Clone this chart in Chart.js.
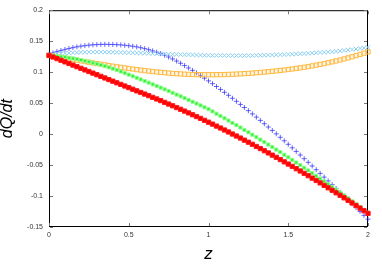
<!DOCTYPE html>
<html>
<head>
<meta charset="utf-8">
<script src="https://cdn.jsdelivr.net/npm/chart.js@4.4.0/dist/chart.umd.min.js"></script>
<style>
  body { margin: 0; background: #fff; }
</style>
</head>
<body>
<canvas id="myChart" width="382" height="273"></canvas>
<script>
// z values (horizontal axis)
const zValues = [0, 0.025, 0.05, 0.075, 0.1, 0.125, 0.15, 0.175, 0.2, 0.225,
    0.25, 0.275, 0.3, 0.325, 0.35, 0.375, 0.4, 0.425, 0.45, 0.475,
    0.5, 0.525, 0.55, 0.575, 0.6, 0.625, 0.65, 0.675, 0.7, 0.725,
    0.75, 0.775, 0.8, 0.825, 0.85, 0.875, 0.9, 0.925, 0.95, 0.975,
    1, 1.025, 1.05, 1.075, 1.1, 1.125, 1.15, 1.175, 1.2, 1.225,
    1.25, 1.275, 1.3, 1.325, 1.35, 1.375, 1.4, 1.425, 1.45, 1.475,
    1.5, 1.525, 1.55, 1.575, 1.6, 1.625, 1.65, 1.675, 1.7, 1.725,
    1.75, 1.775, 1.8, 1.825, 1.85, 1.875, 1.9, 1.925, 1.95, 1.975, 2];

// dQ/dt, red filled squares
const redValues = [0.1270, 0.1244, 0.1218, 0.1192, 0.1166, 0.1140, 0.1114, 0.1088, 0.1062, 0.1036,
    0.1010, 0.0984, 0.0958, 0.0932, 0.0906, 0.0880, 0.0854, 0.0828, 0.0802, 0.0776,
    0.0750, 0.0724, 0.0698, 0.0672, 0.0646, 0.0620, 0.0593, 0.0567, 0.0540, 0.0512,
    0.0485, 0.0457, 0.0428, 0.0400, 0.0371, 0.0342, 0.0312, 0.0283, 0.0253, 0.0222,
    0.0192, 0.0161, 0.0129, 0.0098, 0.0066, 0.0034, 0.0001, -0.0031, -0.0064, -0.0098,
    -0.0131, -0.0165, -0.0200, -0.0234, -0.0269, -0.0304, -0.0340, -0.0375, -0.0411, -0.0448,
    -0.0484, -0.0521, -0.0559, -0.0596, -0.0634, -0.0672, -0.0711, -0.0749, -0.0788, -0.0828,
    -0.0867, -0.0907, -0.0948, -0.0988, -0.1029, -0.1070, -0.1112, -0.1153, -0.1195, -0.1238,
    -0.1280];

// green small squares
const greenValues = [0.1270, 0.1264, 0.1258, 0.1250, 0.1242, 0.1232, 0.1221, 0.1209, 0.1196, 0.1182,
    0.1168, 0.1151, 0.1134, 0.1116, 0.1097, 0.1077, 0.1056, 0.1033, 0.1010, 0.0985,
    0.0960, 0.0934, 0.0908, 0.0882, 0.0856, 0.0830, 0.0803, 0.0777, 0.0750, 0.0722,
    0.0695, 0.0667, 0.0638, 0.0610, 0.0581, 0.0552, 0.0522, 0.0493, 0.0463, 0.0432,
    0.0402, 0.0366, 0.0329, 0.0293, 0.0256, 0.0219, 0.0181, 0.0144, 0.0106, 0.0067,
    0.0029, -0.0010, -0.0050, -0.0089, -0.0129, -0.0169, -0.0210, -0.0250, -0.0291, -0.0333,
    -0.0374, -0.0416, -0.0459, -0.0501, -0.0544, -0.0587, -0.0631, -0.0674, -0.0718, -0.0763,
    -0.0807, -0.0852, -0.0898, -0.0943, -0.0989, -0.1035, -0.1082, -0.1128, -0.1175, -0.1223,
    -0.1270];

// orange open squares
const orangeValues = [0.1270, 0.1259, 0.1248, 0.1237, 0.1226, 0.1215, 0.1204, 0.1193, 0.1182, 0.1171,
    0.1160, 0.1149, 0.1138, 0.1128, 0.1117, 0.1107, 0.1097, 0.1087, 0.1078, 0.1068,
    0.1059, 0.1050, 0.1041, 0.1033, 0.1025, 0.1017, 0.1010, 0.1003, 0.0997, 0.0991,
    0.0985, 0.0980, 0.0975, 0.0971, 0.0967, 0.0964, 0.0962, 0.0960, 0.0959, 0.0958,
    0.0958, 0.0958, 0.0959, 0.0960, 0.0961, 0.0963, 0.0966, 0.0969, 0.0972, 0.0976,
    0.0980, 0.0985, 0.0990, 0.0995, 0.1001, 0.1007, 0.1013, 0.1020, 0.1027, 0.1035,
    0.1043, 0.1051, 0.1060, 0.1069, 0.1079, 0.1090, 0.1101, 0.1113, 0.1125, 0.1138,
    0.1152, 0.1166, 0.1181, 0.1197, 0.1213, 0.1230, 0.1248, 0.1267, 0.1286, 0.1306,
    0.1327];

// light blue crosses (x)
const skyValues = [0.1280, 0.1287, 0.1293, 0.1299, 0.1305, 0.1309, 0.1313, 0.1317, 0.1320, 0.1322,
    0.1323, 0.1324, 0.1325, 0.1324, 0.1324, 0.1323, 0.1322, 0.1320, 0.1318, 0.1317,
    0.1315, 0.1313, 0.1310, 0.1308, 0.1305, 0.1303, 0.1300, 0.1298, 0.1295, 0.1293,
    0.1290, 0.1288, 0.1285, 0.1283, 0.1282, 0.1280, 0.1278, 0.1276, 0.1275, 0.1273,
    0.1272, 0.1271, 0.1270, 0.1269, 0.1268, 0.1268, 0.1267, 0.1267, 0.1267, 0.1268,
    0.1268, 0.1269, 0.1270, 0.1272, 0.1273, 0.1275, 0.1277, 0.1279, 0.1282, 0.1284,
    0.1287, 0.1290, 0.1293, 0.1297, 0.1300, 0.1304, 0.1308, 0.1313, 0.1317, 0.1321,
    0.1326, 0.1330, 0.1335, 0.1343, 0.1350, 0.1358, 0.1365, 0.1374, 0.1383, 0.1391,
    0.1400];

// blue plus signs
const blueValues = [0.1290, 0.1312, 0.1332, 0.1350, 0.1367, 0.1382, 0.1396, 0.1408, 0.1419, 0.1428,
    0.1435, 0.1441, 0.1445, 0.1448, 0.1449, 0.1448, 0.1447, 0.1444, 0.1440, 0.1434,
    0.1427, 0.1418, 0.1408, 0.1395, 0.1380, 0.1363, 0.1344, 0.1322, 0.1299, 0.1273,
    0.1244, 0.1213, 0.1179, 0.1143, 0.1106, 0.1068, 0.1029, 0.0988, 0.0946, 0.0903,
    0.0859, 0.0814, 0.0768, 0.0721, 0.0674, 0.0626, 0.0578, 0.0529, 0.0479, 0.0429,
    0.0378, 0.0326, 0.0274, 0.0221, 0.0168, 0.0114, 0.0059, 0.0004, -0.0052, -0.0108,
    -0.0165, -0.0222, -0.0280, -0.0338, -0.0397, -0.0456, -0.0515, -0.0575, -0.0635, -0.0695,
    -0.0756, -0.0816, -0.0878, -0.0939, -0.1001, -0.1063, -0.1125, -0.1187, -0.1249, -0.1312,
    -0.1374];

const xTicks = [0, 0.5, 1, 1.5, 2];
const yTicks = [-0.15, -0.1, -0.05, 0, 0.05, 0.1, 0.15, 0.2];

function points(values) {
    return zValues.map((z, i) => ({ x: z, y: values[i] }));
}

function fmt(v) {
    const s = String(parseFloat(Number(v).toFixed(3)));
    return s === '-0' ? '0' : s;
}

// box round the plot with small inward ticks on all four sides
const frame = {
    id: 'frame',
    beforeDatasetsDraw(chart) {
        const { ctx, chartArea: a, scales: { x, y } } = chart;
        ctx.save();
        ctx.strokeStyle = '#000';
        ctx.lineWidth = 1;
        ctx.strokeRect(a.left + 0.5, a.top + 0.5, a.right - a.left - 1, a.bottom - a.top - 1);
        ctx.strokeStyle = '#777';
        ctx.beginPath();
        for (const t of xTicks) {
            const px = Math.round(x.getPixelForValue(t)) + 0.5;
            ctx.moveTo(px, a.bottom - 1); ctx.lineTo(px, a.bottom - 4);
            ctx.moveTo(px, a.top + 1); ctx.lineTo(px, a.top + 4);
        }
        for (const t of yTicks) {
            const py = Math.round(y.getPixelForValue(t)) + 0.5;
            ctx.moveTo(a.left + 1, py); ctx.lineTo(a.left + 4, py);
            ctx.moveTo(a.right - 1, py); ctx.lineTo(a.right - 4, py);
        }
        ctx.stroke();
        ctx.restore();
    }
};

const tickFont = { family: 'Liberation Sans', size: 7 };

new Chart(document.getElementById('myChart'), {
    type: 'scatter',
    data: {
        datasets: [
            { label: 'red', data: points(redValues), pointStyle: 'rect', pointRadius: 3,
              backgroundColor: '#ff0000', borderColor: '#ff1a1a', borderWidth: 1, clip: false },
            { label: 'green', data: points(greenValues), pointStyle: 'rect', pointRadius: 2.2,
              backgroundColor: '#33ee33', borderColor: '#8cff8c', borderWidth: 1, clip: false },
            { label: 'orange', data: points(orangeValues), pointStyle: 'rect', pointRadius: 3,
              backgroundColor: 'rgba(255,220,160,0.25)', borderColor: '#ffb940', borderWidth: 1, clip: false },
            { label: 'sky', data: points(skyValues), pointStyle: 'crossRot', pointRadius: 3,
              backgroundColor: 'rgba(0,0,0,0)', borderColor: '#8ccff0', borderWidth: 1, clip: false },
            { label: 'blue', data: points(blueValues), pointStyle: 'cross', pointRadius: 2.5,
              backgroundColor: 'rgba(0,0,0,0)', borderColor: 'rgba(40,40,255,0.7)', borderWidth: 1, clip: false }
        ]
    },
    options: {
        responsive: false,
        animation: false,
        devicePixelRatio: 1,
        layout: { padding: { left: 0, right: 14, top: 9, bottom: 0 } },
        plugins: { legend: { display: false }, tooltip: { enabled: false } },
        scales: {
            x: {
                type: 'linear', min: 0, max: 2,
                afterFit: s => { s.height = 46; },
                grid: { display: false, drawTicks: false },
                border: { display: false },
                ticks: { stepSize: 0.5, padding: 4, color: '#333', font: tickFont, callback: fmt, maxRotation: 0 },
                title: { display: true, text: 'z', color: '#000',
                         font: { family: 'Liberation Sans', size: 17, style: 'italic', lineHeight: 1 },
                         padding: { top: 0, bottom: 10 } }
            },
            y: {
                type: 'linear', min: -0.15, max: 0.2,
                afterFit: s => { s.width = 49; },
                grid: { display: false, drawTicks: false },
                border: { display: false },
                ticks: { stepSize: 0.05, padding: 6, color: '#333', font: tickFont, callback: fmt },
                title: { display: true, text: 'dQ/dt', color: '#000',
                         font: { family: 'Liberation Sans', size: 16, style: 'italic', lineHeight: 1 },
                         padding: { top: 0, bottom: 0 } }
            }
        }
    },
    plugins: [frame]
});
</script>
</body>
</html>
